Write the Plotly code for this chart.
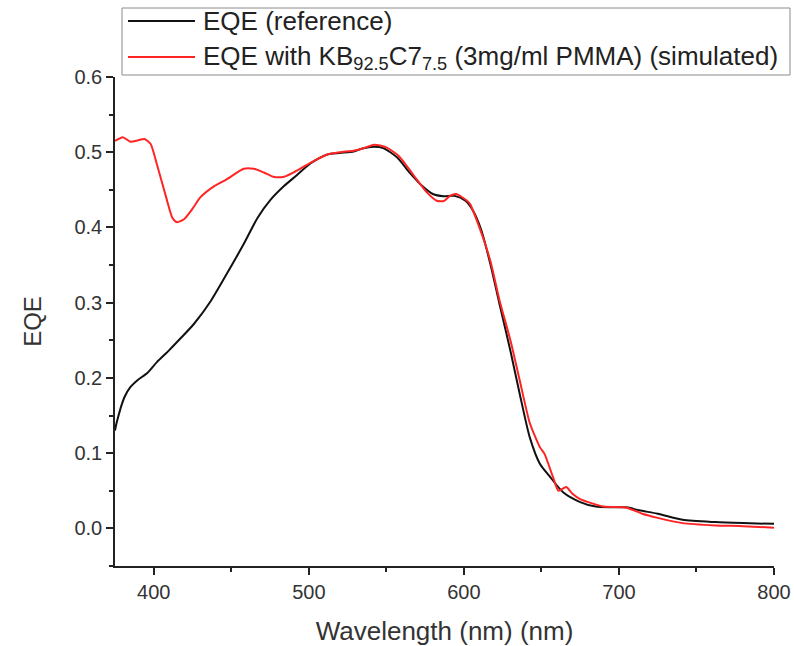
import plotly.graph_objects as go

# Reference EQE curve
ref_wl = [375, 376, 381, 385, 389.5, 396, 402, 410, 417, 426, 437, 447, 458, 467, 475, 484, 492, 501,
          512, 520, 529, 533, 540, 548, 557, 565, 573, 580, 587, 594, 601, 606, 611, 617, 623, 630,
          636, 642.5, 649, 655, 664, 675, 685, 695, 705, 713, 725, 741, 762, 780, 800]
ref_eqe = [0.130, 0.140, 0.174, 0.188, 0.197, 0.207, 0.221, 0.237, 0.252, 0.272, 0.303, 0.338, 0.378,
           0.413, 0.436, 0.455, 0.469, 0.485, 0.497, 0.499, 0.501, 0.504, 0.507, 0.5055, 0.493, 0.473,
           0.4555, 0.4445, 0.4415, 0.442, 0.4355, 0.422, 0.398, 0.352, 0.298, 0.236, 0.179, 0.121,
           0.086, 0.070, 0.048, 0.035, 0.029, 0.028, 0.028, 0.024, 0.0195, 0.0115, 0.0084, 0.007, 0.006]

# Simulated EQE curve
sim_wl = [375, 380, 385, 390, 394, 398, 402, 408, 412, 415, 419.5, 425, 430, 439, 447, 458, 464.5, 471,
          477, 484, 490, 501, 512, 520, 529, 535, 542, 550, 558, 567, 576, 582.5, 587, 591, 595, 602,
          604, 610, 617, 623, 630, 636, 642.5, 649, 652, 657.5, 661, 666, 670, 675, 690, 705, 715, 725,
          741, 762, 780, 800]
sim_eqe = [0.515, 0.520, 0.514, 0.516, 0.5175, 0.511, 0.484, 0.44, 0.413, 0.407, 0.411, 0.425, 0.44,
           0.455, 0.464, 0.478, 0.478, 0.473, 0.4675, 0.4675, 0.473, 0.486, 0.497, 0.500, 0.502, 0.505,
           0.510, 0.5065, 0.495, 0.471, 0.447, 0.4355, 0.435, 0.442, 0.4445, 0.4355, 0.431, 0.400, 0.356,
           0.303, 0.25, 0.197, 0.14, 0.108, 0.099, 0.068, 0.050, 0.055, 0.046, 0.039, 0.029, 0.0275,
           0.0195, 0.014, 0.007, 0.004, 0.003, 0.001]

series_names = ["EQE (reference)",
                "EQE with KB<sub>92.5</sub>C7<sub>7.5</sub> (3mg/ml PMMA) (simulated)"]
series_colors = ["#111111", "#ff2424"]

x_ticks = [400, 500, 600, 700, 800]
y_ticks = [0.0, 0.1, 0.2, 0.3, 0.4, 0.5, 0.6]
y_tick_labels = ["0.0", "0.1", "0.2", "0.3", "0.4", "0.5", "0.6"]

fig = go.Figure()
fig.add_trace(go.Scatter(x=ref_wl, y=ref_eqe, mode="lines", name=series_names[0], showlegend=False,
                         line=dict(color=series_colors[0], width=2, shape="spline", smoothing=0.7)))
fig.add_trace(go.Scatter(x=sim_wl, y=sim_eqe, mode="lines", name=series_names[1], showlegend=False,
                         line=dict(color=series_colors[1], width=2, shape="spline", smoothing=0.6)))

# Manual legend (box, line samples, labels) placed above the plot area
PL, PR, PT, PB = 115, 774, 77, 566
def px(xp):
    return (xp - PL) / (PR - PL)
def py(yp):
    return (PB - yp) / (PB - PT)

fig.add_shape(type="rect", xref="paper", yref="paper",
              x0=px(122), x1=px(790), y0=py(75), y1=py(8),
              line=dict(color="#8a8a8a", width=1), fillcolor="white", layer="above")
for i, (name, color) in enumerate(zip(series_names, series_colors)):
    yc = 21 + i * 36
    fig.add_shape(type="line", xref="paper", yref="paper",
                  x0=px(128), x1=px(195), y0=py(yc), y1=py(yc),
                  line=dict(color=color, width=2))
    fig.add_annotation(xref="paper", yref="paper", x=px(201), y=py(yc), xanchor="left",
                       yanchor="middle", text=name, showarrow=False,
                       font=dict(size=26, color="#222222"))

fig.update_layout(
    width=794, height=646,
    margin=dict(l=PL, r=794 - PR, t=PT, b=646 - PB),
    paper_bgcolor="white", plot_bgcolor="white",
    font=dict(family="Liberation Sans, Arial, sans-serif", color="#333333"),
    showlegend=False,
)
fig.update_xaxes(
    range=[375, 800], tickvals=x_ticks, showgrid=False, zeroline=False, automargin=False,
    showline=True, linecolor="#222222", linewidth=1.5,
    ticks="outside", ticklen=7, tickwidth=1.5, tickcolor="#222222",
    minor=dict(dtick=50, tick0=0, ticks="outside", ticklen=4, tickwidth=1.5, tickcolor="#222222"),
    tickfont=dict(size=20, color="#333333"),
    title=dict(text="Wavelength (nm) (nm)", font=dict(size=26, color="#333333"), standoff=20),
)
fig.update_yaxes(
    range=[-0.05, 0.6], tickvals=y_ticks, ticktext=y_tick_labels, showgrid=False, zeroline=False,
    automargin=False,
    showline=True, linecolor="#222222", linewidth=1.5,
    ticks="outside", ticklen=7, tickwidth=1.5, tickcolor="#222222",
    minor=dict(dtick=0.05, tick0=0, ticks="outside", ticklen=4, tickwidth=1.5, tickcolor="#222222"),
    tickfont=dict(size=20, color="#333333"),
    title=dict(text="EQE", font=dict(size=24, color="#333333"), standoff=26),
)
fig.write_html("out.html", config={"displayModeBar": False},
               post_script="document.body.style.margin='0';")
